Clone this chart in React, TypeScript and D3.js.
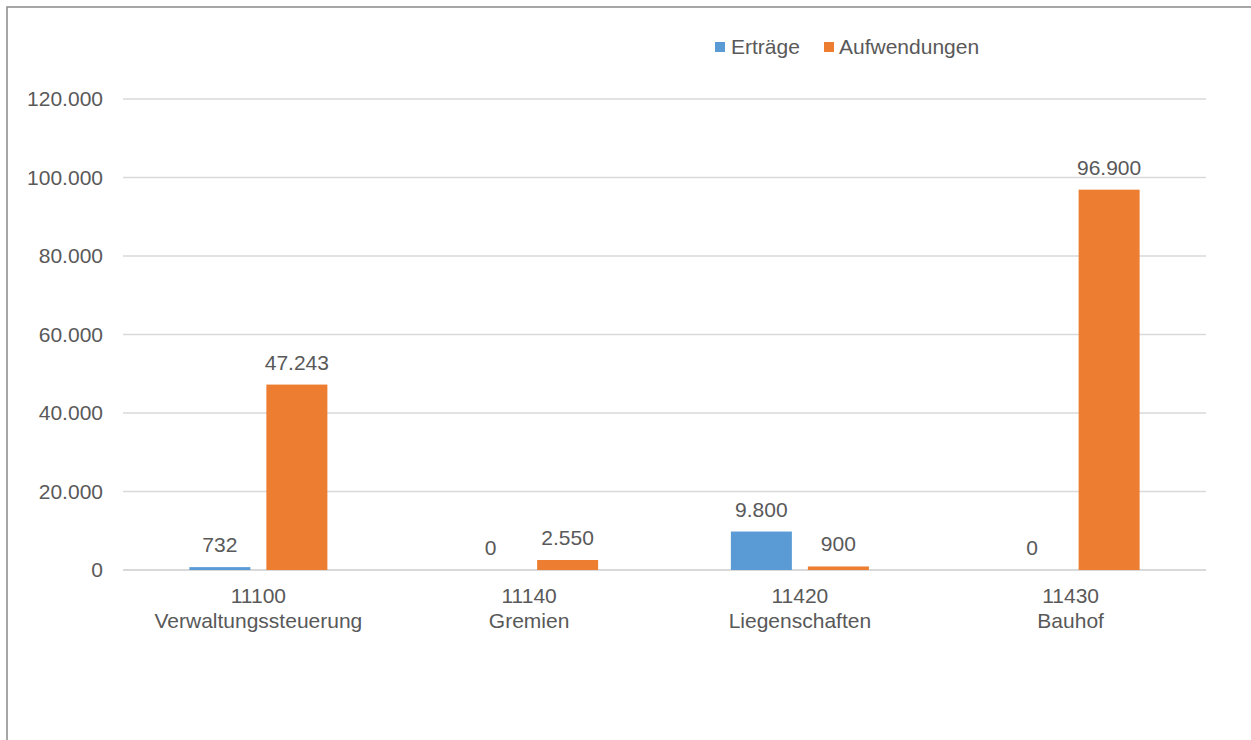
import React from "react";
import * as d3 from "d3";

const categories = ["11100|Verwaltungssteuerung", "11140|Gremien", "11420|Liegenschaften", "11430|Bauhof"];
const seriesNames = ["Erträge", "Aufwendungen"];
const ertraege = [732, 0, 9800, 0];
const aufwendungen = [47243, 2550, 900, 96900];
const yTicks = [0, 20000, 40000, 60000, 80000, 100000, 120000];
const colors = ["#5B9BD5", "#ED7D31"];

const W = 1251, H = 740;
const fmt = (v: number) => d3.format(",")(v).replace(/,/g, ".");
const FONT = "'Liberation Sans', Arial, sans-serif";
const TXT = "#595959";

export default function App() {
  const x = d3.scaleBand<string>().domain(categories).range([123, 1206]).padding(0);
  const y = d3.scaleLinear().domain([0, 120000]).range([570, 99]);
  const bw = x.bandwidth();
  const groupW = 138;
  const x1 = d3.scaleBand<string>().domain(seriesNames)
    .range([(bw - groupW) / 2, (bw + groupW) / 2]).paddingInner(16 / 77).paddingOuter(0);
  const data = [ertraege, aufwendungen];

  return (
    <svg width={W} height={H} style={{ position: "absolute", left: 0, top: 0, background: "#fff" }} fontFamily={FONT}>
      <rect x={0} y={0} width={W} height={H} fill="#fff" />
      <rect x={7} y={7} width={1400} height={900} fill="none" stroke="#898989" strokeWidth={1.5} />
      {yTicks.map((t) => (
        <g key={t}>
          <line x1={123} x2={1206} y1={y(t)} y2={y(t)} stroke="#d9d9d9" strokeWidth={t === 0 ? 2 : 1.5} />
          <text x={103} y={y(t)} dy="0.35em" textAnchor="end" fontSize={21} fill={TXT}>{fmt(t)}</text>
        </g>
      ))}
      {categories.map((c, ci) => (
        <g key={c} transform={`translate(${x(c)},0)`}>
          {seriesNames.map((s, si) => {
            const v = data[si][ci];
            const bx = x1(s)!;
            return (
              <g key={s}>
                <rect x={bx} y={y(v)} width={x1.bandwidth()} height={570 - y(v)} fill={colors[si]} />
                <text x={bx + x1.bandwidth() / 2} y={y(v) - 15} textAnchor="middle" fontSize={21} fill={TXT}>{fmt(v)}</text>
              </g>
            );
          })}
          <text x={bw / 2} y={603} textAnchor="middle" fontSize={21} fill={TXT}>{c.split("|")[0]}</text>
          <text x={bw / 2} y={628} textAnchor="middle" fontSize={21} fill={TXT}>{c.split("|")[1]}</text>
        </g>
      ))}
      <g>
        <rect x={715} y={42} width={10} height={10} fill={colors[0]} />
        <text x={731} y={47} dy="0.35em" fontSize={21} fill={TXT}>{seriesNames[0]}</text>
        <rect x={824} y={42} width={10} height={10} fill={colors[1]} />
        <text x={839} y={47} dy="0.35em" fontSize={21} fill={TXT}>{seriesNames[1]}</text>
      </g>
    </svg>
  );
}
